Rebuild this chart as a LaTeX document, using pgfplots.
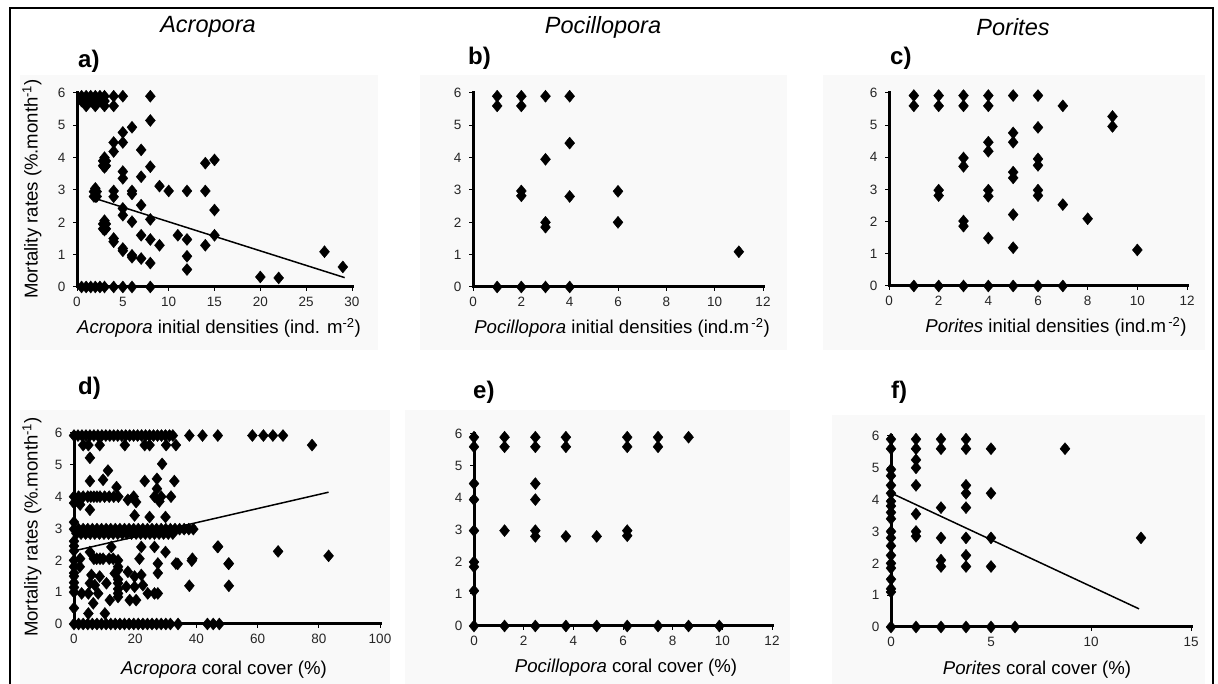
\documentclass[border=0pt]{standalone}
\usepackage{fontspec}
\setmainfont{Liberation Sans}
\usepackage{pgfplots}
\pgfplotsset{compat=1.18}

\definecolor{chartbg}{gray}{0.975}

\tikzset{axisbar/.style={black, line width=3pt, line cap=rect}}

\pgfplotsset{
  coral/.style={
    scale only axis,
    axis lines*=left,
    axis line style={black, -},
    xmin=0, ymin=0, ymax=6,
    ytick={0,1,...,6},
    tick align=outside,
    major tick length=4pt,
    tick style={black, line width=1pt},
    tick label style={text=black!85},
    xticklabel={\fontsize{13.5}{14}\selectfont\pgfmathprintnumber{\tick}},
    yticklabel={\fontsize{13.5}{14}\selectfont\pgfmathprintnumber{\tick}},
    xticklabel style={yshift=-3pt},
    yticklabel style={xshift=-4pt},
    /pgf/number format/assume math mode=true,
    clip=false,
  },
  pts/.style={only marks, mark=diamond*, mark size=6pt,
    mark options={xscale=1.1, fill=black, draw=black, line width=0.4pt}},
  fit/.style={black, line width=1.5pt, no marks},
}

\newcommand{\axlabel}{\fontsize{18.6}{20}\selectfont}
\newcommand{\ttl}[1]{\fontsize{23.5}{25}\selectfont\itshape #1}
\newcommand{\pl}[1]{\fontsize{24}{26}\selectfont\bfseries #1}

\begin{document}
\begin{tikzpicture}[x=1pt,y=1pt]
\useasboundingbox (0,0) rectangle (1218,684);

% light chart-area fills
\fill[chartbg] (20,334) rectangle (378,609);
\fill[chartbg] (420,334) rectangle (787,609);
\fill[chartbg] (823,334) rectangle (1205,609);
\fill[chartbg] (20,0) rectangle (390,274);
\fill[chartbg] (405,0) rectangle (790,274);
\fill[chartbg] (832,0) rectangle (1205,269);

% outer frame
\draw[line width=2pt] (10,-5) -- (10,676) -- (1213,676) -- (1213,-5);

% ---------- a) Acropora initial densities ----------
\begin{axis}[coral, at={(77pt,397pt)}, anchor=south west, width=275pt, height=194pt,
  xmax=30, xtick={0,5,...,30}]
\draw[axisbar] (axis cs:0,6) -- (axis cs:0,0) -- (axis cs:30,0);
\addplot[pts] coordinates {
 (0.5,5.9)(1,5.9)(1.5,5.9)(2,5.9)(2.5,5.9)(3,5.9)(4,5.9)(5,5.9)(8,5.9)
 (0.5,5.75)(1,5.75)(1.5,5.75)(2,5.75)(2.5,5.75)(3,5.75)
 (1,5.6)(2,5.6)(3,5.6)(4,5.6)
 (8,5.15)(6,4.94)(5,4.78)(4,4.47)(5,4.47)(4,4.19)(7,4.24)
 (2.85,3.9)(3.15,3.9)(3,4.0)(3,3.7)(2.85,3.75)(3.15,3.75)
 (5,3.57)(5,3.36)(7,3.41)(8,3.72)(14,3.83)(15,3.93)(9,3.12)
 (10,2.97)(12,2.97)(14,2.97)
 (1.85,2.95)(2.15,2.95)(2,3.05)(2,2.8)(1.85,2.8)(2.15,2.8)
 (4,2.97)(4,2.79)(6,2.97)(6,2.88)(7,2.53)(15,2.38)(5,2.43)(5,2.22)(6,2.02)(8,2.09)
 (2.85,1.95)(3.15,1.95)(3,2.05)(3,1.76)(2.85,1.8)(3.15,1.8)
 (7,1.6)(8,1.47)(9,1.29)(11,1.6)(12,1.47)(14,1.29)(15,1.6)
 (4,1.5)(4,1.4)(5,1.19)(5,1.12)(6,0.98)(6,0.92)(7,0.88)(8,0.74)
 (12,0.95)(12,0.54)(20,0.31)(22,0.28)(27,1.09)(29,0.62)
 (0.5,0)(1,0)(1.5,0)(2,0)(2.5,0)(3,0)(4,0)(5,0)(6,0)(8,0)
};
\addplot[fit] coordinates {(1.4,2.79)(29.2,0.29)};
\end{axis}

% ---------- b) Pocillopora initial densities ----------
\begin{axis}[coral, at={(473pt,397pt)}, anchor=south west, width=290pt, height=194pt,
  xmax=12, xtick={0,2,...,12}]
\draw[axisbar] (axis cs:0,6) -- (axis cs:0,0) -- (axis cs:12,0);
\addplot[pts] coordinates {
 (1,5.9)(1,5.6)(1,0)
 (2,5.9)(2,5.6)(2,2.97)(2,2.82)(2,0)
 (3,5.9)(3,3.95)(3,2.0)(3,1.85)(3,0)
 (4,5.9)(4,4.45)(4,2.8)(4,0)
 (6,2.96)(6,2.0)
 (11,1.09)
};
\end{axis}

% ---------- c) Porites initial densities ----------
\begin{axis}[coral, at={(889pt,398pt)}, anchor=south west, width=298pt, height=193pt,
  xmax=12, xtick={0,2,...,12}]
\draw[axisbar] (axis cs:0,6) -- (axis cs:0,0) -- (axis cs:12,0);
\addplot[pts] coordinates {
 (1,5.92)(1,5.6)(1,0)
 (2,5.92)(2,5.6)(2,2.98)(2,2.81)(2,0)
 (3,5.92)(3,5.6)(3,3.98)(3,3.72)(3,2.02)(3,1.86)(3,0)
 (4,5.92)(4,5.6)(4,4.47)(4,4.19)(4,2.98)(4,2.79)(4,1.49)(4,0)
 (5,5.92)(5,4.76)(5,4.47)(5,3.54)(5,3.36)(5,2.22)(5,1.19)(5,0)
 (6,5.92)(6,4.93)(6,3.95)(6,3.75)(6,2.98)(6,2.81)(6,0)
 (7,5.6)(7,2.53)(7,0)
 (8,2.09)
 (9,5.27)(9,4.96)
 (10,1.12)
};
\end{axis}

% ---------- d) Acropora coral cover ----------
\begin{axis}[coral, at={(74pt,60pt)}, anchor=south west, width=306pt, height=191pt,
  xmax=100, xtick={0,20,...,100}]
\draw[axisbar] (axis cs:0,6) -- (axis cs:0,0) -- (axis cs:100,0);
\addplot[pts] coordinates {
 (0,5.92)(1.3,5.92)(2.6,5.92)(3.9,5.92)(5.2,5.92)(6.5,5.92)(7.8,5.92)(9.1,5.92)
 (10.4,5.92)(11.7,5.92)(13,5.92)(14.3,5.92)(15.6,5.92)(16.9,5.92)(18.2,5.92)
 (19.5,5.92)(20.8,5.92)(22.1,5.92)(23.4,5.92)(24.7,5.92)(26,5.92)(27.3,5.92)
 (28.6,5.92)(29.9,5.92)(31.2,5.92)(32.3,5.92)
 (37.7,5.92)(42,5.92)(47,5.92)(58.3,5.92)(61.9,5.92)(65,5.92)(68.3,5.92)
 (3,5.62)(4.7,5.62)(8.4,5.62)(16.6,5.62)(23.1,5.62)(24.7,5.62)(30.1,5.62)(33.3,5.62)(77.8,5.62)
 (5.2,5.22)(28.8,5.03)(11.1,4.82)(5.2,4.49)(9.5,4.53)(13.9,4.30)(23.1,4.49)
 (27.1,4.56)(27.1,4.25)(32.8,4.49)
 (0,4.0)(1.5,4.0)(3,4.0)(4.5,4.0)(5.5,4.0)(6.5,4.0)(7.5,4.0)(8.5,4.0)(10,4.0)
 (11.5,4.0)(13,4.0)(14.5,4.0)(17.6,3.9)(19.5,4.0)(20.3,3.83)(26.3,4.0)(27.9,3.85)
 (28.5,4.0)(31.7,4.0)
 (0,3.8)(2,3.75)(5.2,3.59)(19.8,3.41)(24.7,3.36)(29.9,3.36)
 (0,2.98)(1.5,2.98)(3,2.98)(4.5,2.98)(6,2.98)(7.5,2.98)(9,2.98)(10.5,2.98)
 (12,2.98)(13.5,2.98)(15,2.98)(16.5,2.98)(18,2.98)(19.5,2.98)(21,2.98)(22.5,2.98)
 (24,2.98)(25.5,2.98)(27,2.98)(28.5,2.98)(30,2.98)(31.5,2.98)(33,2.98)(34.5,2.98)
 (36,2.98)(37.5,2.98)(39,2.98)
 (0.8,2.84)(2.3,2.84)(3.8,2.84)(5.3,2.84)(6.8,2.84)(8.3,2.84)(9.8,2.84)(11.3,2.84)
 (12.8,2.84)(14.3,2.84)(15.8,2.84)(17.3,2.84)(18.8,2.84)(20.3,2.84)(21.8,2.84)
 (23.3,2.84)(24.8,2.84)(26.3,2.84)(27.8,2.84)(29.3,2.84)(30.8,2.84)(32.3,2.84)
 (0,3.2)(0,2.6)(0,2.45)(0,2.3)(0,2.0)(0,1.8)(0,1.6)(0,1.5)(0,1.3)(0,1.15)(0,1.0)(0,0.5)
 (12.2,2.42)(22,2.42)(26.3,2.42)(46.9,2.42)(29.9,2.26)(5.2,2.26)(2,2.05)
 (6.5,2.05)(7.4,2.05)(8.5,2.05)(9.5,2.05)(11.5,2.05)(12.8,2.05)(21.4,2.05)
 (33.3,1.9)(38.7,2.05)(50.6,1.9)(27.4,1.9)(27.4,1.6)
 (1.9,1.8)(5.7,1.54)(8.4,1.49)(13.3,1.59)(14.4,1.8)(17.6,1.64)(19.8,1.49)(22,1.54)
 (5.2,1.28)(6.8,1.22)(10.6,1.28)(14.4,1.28)(17.1,1.17)(19.8,1.17)(22.5,1.22)
 (2.5,0.96)(4.7,0.96)(7.9,0.96)(11.7,0.75)(14.4,0.96)(18.2,0.75)(20.3,0.75)
 (24.1,0.96)(26.3,0.96)(27.4,0.96)(6.3,0.65)(4.7,0.33)(10.1,0.33)
 (14.4,2.0)(14.4,1.7)(14.4,1.4)(14.4,1.1)(14.4,0.85)
 (37.7,1.2)(50.6,1.2)(66.7,2.28)(83.2,2.14)(47.1,2.43)(50.5,1.89)(38.5,1.99)(33.9,1.89)
 (0,0)(1.5,0)(3,0)(4.5,0)(6,0)(7.5,0)(9,0)(10.5,0)(12,0)(13.5,0)(15,0)(16.5,0)
 (18,0)(19.5,0)(21,0)(22.5,0)(24,0)(25.5,0)(27,0)(28.5,0)(30,0)(31.5,0)(34,0)
 (43.6,0)(45.5,0)(47.5,0)
};
\addplot[fit] coordinates {(0.6,2.31)(83.2,4.14)};
\end{axis}

% ---------- e) Pocillopora coral cover ----------
\begin{axis}[coral, at={(474pt,58pt)}, anchor=south west, width=298pt, height=192pt,
  xmax=12, xtick={0,2,...,12}]
\draw[axisbar] (axis cs:0,6) -- (axis cs:0,0) -- (axis cs:12,0);
\addplot[pts] coordinates {
 (0,5.9)(0,5.6)(0,4.45)(0,3.95)(0,2.98)(0,2.0)(0,1.85)(0,1.1)(0,0)
 (1.23,5.9)(1.23,5.6)(1.23,2.98)(1.23,0)
 (2.47,5.9)(2.47,5.6)(2.47,4.45)(2.47,3.95)(2.47,2.98)(2.47,2.8)(2.47,0)
 (3.7,5.9)(3.7,5.6)(3.7,2.8)(3.7,0)
 (4.94,2.8)(4.94,0)
 (6.17,5.9)(6.17,5.6)(6.17,2.98)(6.17,2.82)(6.17,0)
 (7.41,5.9)(7.41,5.6)(7.41,0)
 (8.64,5.9)(8.64,0)
 (9.88,0)
};
\end{axis}

% ---------- f) Porites coral cover ----------
\begin{axis}[coral, at={(891pt,57pt)}, anchor=south west, width=300pt, height=191pt,
  xmax=15, xtick={0,5,10,15}]
\draw[axisbar] (axis cs:0,6) -- (axis cs:0,0) -- (axis cs:15,0);
\addplot[pts] coordinates {
 (0,5.9)(0,5.6)(0,4.95)(0,4.75)(0,4.45)(0,4.2)(0,3.95)(0,3.8)(0,3.6)(0,3.4)
 (0,3.0)(0,2.8)(0,2.55)(0,2.25)(0,2.0)(0,1.85)(0,1.5)(0,1.2)(0,1.1)(0,0)
 (1.25,5.9)(1.25,5.6)(1.25,5.25)(1.25,5.0)(1.25,4.45)(1.25,3.55)(1.25,3.0)(1.25,2.85)(1.25,0)
 (2.5,5.9)(2.5,5.6)(2.5,3.75)(2.5,2.8)(2.5,2.1)(2.5,1.9)(2.5,0)
 (3.75,5.9)(3.75,5.6)(3.75,4.45)(3.75,4.2)(3.75,3.75)(3.75,2.8)(3.75,2.25)(3.75,1.9)(3.75,0)
 (5,5.6)(5,4.2)(5,2.8)(5,1.9)(5,0)
 (6.2,0)
 (8.7,5.6)
 (12.5,2.8)
};
\addplot[fit] coordinates {(0.1,4.18)(12.4,0.57)};
\end{axis}

% column titles
\node at (208,657) {\ttl{Acropora}};
\node at (603,657) {\ttl{Pocillopora}};
\node at (1013,657) {\ttl{Porites}};

% panel letters
\node[anchor=west, inner sep=0] at (78,623) {\pl{a)}};
\node[anchor=west, inner sep=0] at (468,626) {\pl{b)}};
\node[anchor=west, inner sep=0] at (890,626) {\pl{c)}};
\node[anchor=west, inner sep=0] at (78,296) {\pl{d)}};
\node[anchor=west, inner sep=0] at (473,292) {\pl{e)}};
\node[anchor=west, inner sep=0] at (891,292) {\pl{f)}};

% axis titles
\node at (219,356) {\axlabel\textit{Acropora} initial densities (ind. m\textsuperscript{-2})};
\node at (622,356) {\axlabel\textit{Pocillopora} initial densities (ind.m\textsuperscript{\,-2})};
\node at (1056,357) {\axlabel\textit{Porites} initial densities (ind.m\textsuperscript{\,-2})};
\node at (224,14) {\axlabel\textit{Acropora} coral cover (\%)};
\node at (626,16) {\axlabel\textit{Pocillopora} coral cover (\%)};
\node at (1037,14) {\axlabel\textit{Porites} coral cover (\%)};
\node[rotate=90] at (32,495) {\axlabel Mortality rates (\%.month\textsuperscript{-1})};
\node[rotate=90] at (32,157) {\axlabel Mortality rates (\%.month\textsuperscript{-1})};
\end{tikzpicture}
\end{document}
